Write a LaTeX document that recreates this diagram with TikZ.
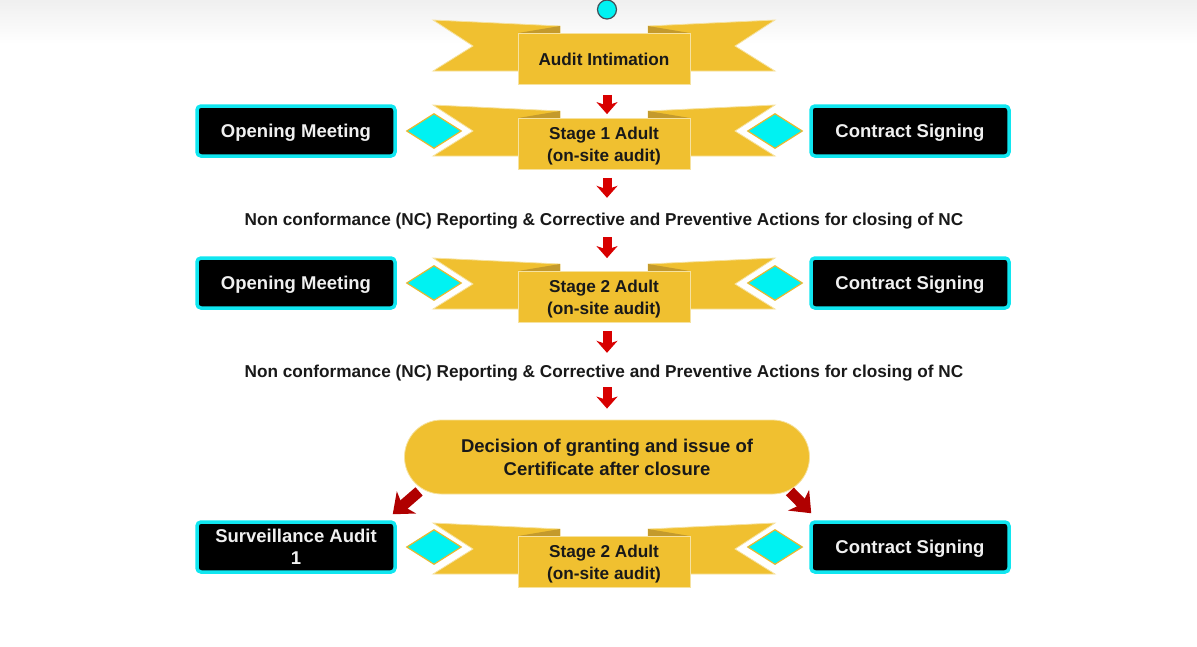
\documentclass[tikz,border=0pt]{standalone}
\usepackage{fontspec}
\setmainfont{Liberation Sans}
\usetikzlibrary{shapes.geometric,arrows.meta}
\definecolor{gold}{HTML}{F0C030}
\definecolor{golddark}{HTML}{C49A2C}
\definecolor{goldedge}{HTML}{F6E2A0}
\definecolor{aqua}{HTML}{00F2F2}
\definecolor{frame}{HTML}{10E6F0}
\definecolor{arrowred}{HTML}{D80000}
\definecolor{darkred}{HTML}{B00000}
\definecolor{gemedge}{HTML}{E8B830}

\newcommand\RibbonWings[1]{%
  \foreach \s in {1,-1}{%
    \begin{scope}[shift={(604,0)},xscale=\s]
      \fill[gold,draw=goldedge,line width=0.8pt] (-171,#1-39) -- (-44,#1-33) -- (-44,#1+12) -- (-171,#1+12) -- (-131,#1-13) -- cycle;
      \fill[golddark] (-86,#1-26) -- (-44,#1-33) -- (-44,#1-26) -- cycle;
    \end{scope}}%
}
\newcommand\TopPad{\rule{0pt}{16.5pt}}

\tikzset{
  ribbonbox/.style={rectangle, fill=gold, draw=goldedge, line width=0.8pt,
    minimum width=172pt, minimum height=51pt, inner sep=0pt, align=center,
    font=\bfseries\fontsize{17.2}{22}\selectfont, text=black!90},
  sidebox/.style={rectangle, fill=black, draw=frame, line width=3.5pt, rounded corners=4pt,
    minimum width=198pt, minimum height=50pt, inner sep=0pt, align=center, text=white!94!black,
    font=\bfseries\fontsize{18.5}{22}\selectfont},
  oneline/.style={text height=15pt, text depth=1.5pt},
  gem/.style={diamond, fill=aqua, draw=gemedge, line width=1.2pt,
    minimum width=55pt, minimum height=35pt, inner sep=0pt},
  note/.style={inner sep=0pt, text height=13pt, text depth=4pt,
    font=\bfseries\fontsize{17.2}{22}\selectfont, text=black!90},
  stadium/.style={rectangle, rounded corners=37pt, fill=gold, draw=goldedge, line width=0.8pt,
    minimum width=405pt, minimum height=74pt, inner sep=0pt, align=center,
    font=\bfseries\fontsize{18.5}{23}\selectfont, text=black!90},
  dot/.style={circle, fill=aqua, draw=black!75!cyan, line width=1.2pt, minimum size=19pt, inner sep=0pt},
  flow/.style={draw=arrowred, line width=9pt,
    -{Stealth[length=12pt, width=21pt, inset=3.5pt, fill=arrowred]}},
  bigflow/.style={draw=darkred, line width=11pt,
    -{Stealth[length=18pt, width=29pt, inset=5pt, fill=darkred]}}
}

\begin{document}
\begin{tikzpicture}[x=1pt, y=-1pt]
\useasboundingbox (0,0) rectangle (1197,646);
\shade[top color=black!6, bottom color=white] (0,0) rectangle (1197,44);

% start dot
\node[dot] (start) at (607,9.5) {};

% Audit Intimation ribbon
\RibbonWings{59}
\node[ribbonbox] (ai) at (604,59) {Audit Intimation};

% Row 1
\RibbonWings{144}
\node[ribbonbox] (st1) at (604,144) {\TopPad Stage 1 Adult\\(on-site audit)};
\node[sidebox, oneline] (om1) at (296,131) {Opening Meeting};
\node[sidebox, oneline] (cs1) at (910,131) {Contract Signing};
\node[gem] (g1l) at (434,131) {};
\node[gem] (g1r) at (775,131) {};

\node[note] (nc1) at (604,220.5) {Non conformance (NC) Reporting \& Corrective and Preventive Actions for closing of NC};

% Row 2
\RibbonWings{297}
\node[ribbonbox] (st2) at (604,297) {\TopPad Stage 2 Adult\\(on-site audit)};
\node[sidebox, oneline] (om2) at (296,283) {Opening Meeting};
\node[sidebox, oneline] (cs2) at (910,283) {Contract Signing};
\node[gem] (g2l) at (434,283) {};
\node[gem] (g2r) at (775,283) {};

\node[note] (nc2) at (604,372.5) {Non conformance (NC) Reporting \& Corrective and Preventive Actions for closing of NC};

% Decision
\node[stadium] (dec) at (607,457) {Decision of granting and issue of\\Certificate after closure};

% Row 3
\RibbonWings{562}
\node[ribbonbox] (st3) at (604,562) {\TopPad Stage 2 Adult\\(on-site audit)};
\node[sidebox] (sa) at (296,547) {Surveillance Audit\\1};
\node[sidebox, oneline] (cs3) at (910,547) {Contract Signing};
\node[gem] (g3l) at (434,547) {};
\node[gem] (g3r) at (775,547) {};

% Arrows
\draw[flow, shorten <=10pt, shorten >=4pt] ([xshift=3pt]ai.south) -- ([xshift=3pt]st1.north);
\draw[flow, shorten <=8pt, shorten >=14pt] ([xshift=3pt]st1.south) -- ([xshift=3pt]nc1.north);
\draw[flow, shorten <=8pt, shorten >=13pt] ([xshift=3pt]nc1.south) -- ([xshift=3pt]st2.north);
\draw[flow, shorten <=8pt, shorten >=11pt] ([xshift=3pt]st2.south) -- ([xshift=3pt]nc2.north);
\draw[flow, shorten <=6pt, shorten >=11pt] ([xshift=3pt]nc2.south) -- (dec.north);
\draw[bigflow] ([shift={(15,-3)}]dec.south west) -- ([shift={(-4,-6)}]sa.north east);
\draw[bigflow] ([shift={(-20,-3)}]dec.south east) -- ([shift={(2,-7)}]cs3.north west);
\end{tikzpicture}
\end{document}
